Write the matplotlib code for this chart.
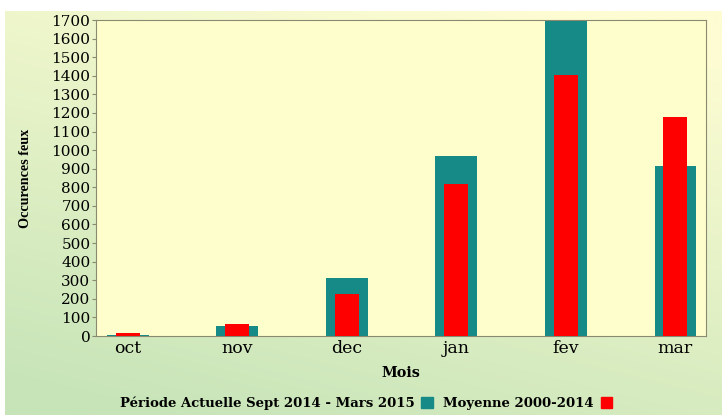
import numpy as np
import matplotlib.pyplot as plt
from matplotlib.patches import Patch

mois = ['oct', 'nov', 'dec', 'jan', 'fev', 'mar']
periode_actuelle = [8, 55, 312, 967, 1700, 917]
moyenne = [15, 66, 226, 817, 1404, 1179]

teal = '#168a86'
rouge = '#ff0000'

fig = plt.figure(figsize=(7.22, 4.15), dpi=100)
fig.patch.set_facecolor('white')

# fond degrade jaune -> vert
bg = fig.add_axes([5/722, 0, 1 - 5/722, 1 - 11/415])
yy, xx = np.mgrid[0:1:200j, 0:1:200j]
t = np.clip(0.8*yy + 0.35*(1 - xx) - 0.1, 0, 1)
haut = np.array([253, 252, 210]) / 255
bas = np.array([198, 228, 184]) / 255
img = haut[None, None, :]*(1 - t[..., None]) + bas[None, None, :]*t[..., None]
bg.imshow(img, aspect='auto', extent=[0, 1, 0, 1])
bg.set_axis_off()

ax = fig.add_axes([96/722, 1 - 336/415, 610/722, 316/415])
ax.set_facecolor('#fefecd')
x = np.arange(len(mois))
ax.bar(x, periode_actuelle, width=0.38, color=teal, zorder=2)
ax.bar(x, moyenne, width=0.22, color=rouge, zorder=3)

ax.set_xlim(-0.29, 5.28)
ax.set_ylim(0, 1700)
ax.set_yticks(range(0, 1701, 100))
ax.set_xticks(x)
ax.set_xticklabels(mois)
for sp in ax.spines.values():
    sp.set_color('#8a8a70')
ax.tick_params(axis='y', length=3, color='#8a8a70', labelsize=11, pad=1)
ax.tick_params(axis='x', length=0, labelsize=12.5, pad=3)
for lab in ax.get_xticklabels() + ax.get_yticklabels():
    lab.set_family('DejaVu Serif')

ax.set_ylabel('Occurences feux', family='Liberation Serif', fontweight='bold', fontsize=10.2, labelpad=14)
ax.set_xlabel('Mois', family='DejaVu Serif', fontweight='bold', fontsize=10.3, labelpad=6)

handles = [Patch(color=teal), Patch(color=rouge)]
fig.legend(handles, ['Période Actuelle Sept 2014 - Mars 2015', 'Moyenne 2000-2014'],
           loc='center', bbox_to_anchor=(366/722, 1 - 403/415), ncol=2, frameon=False,
           markerfirst=False, handlelength=0.9, handleheight=0.9, handletextpad=0.5,
           columnspacing=0.8, prop={'family': 'DejaVu Serif', 'weight': 'bold', 'size': 9.5})

fig.savefig('out.png', dpi=100)
